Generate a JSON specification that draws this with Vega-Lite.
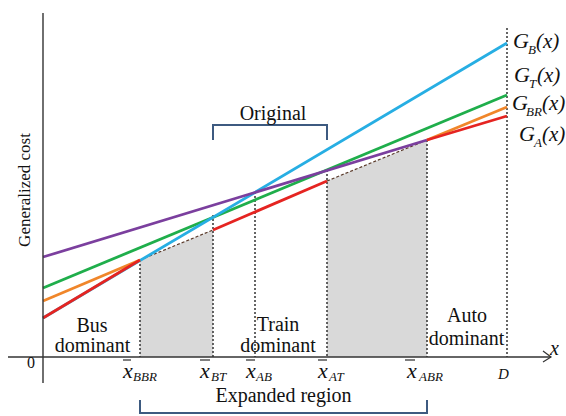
{
  "$schema": "https://vega.github.io/schema/vega-lite/v6.json",
  "width": 566,
  "height": 416,
  "autosize": {"type": "none"},
  "padding": 0,
  "background": "white",
  "config": {"view": {"stroke": null}},
  "datasets": {
    "regions": [
      {"region": "r1", "X": 97, "Y": 97}, {"region": "r1", "X": 170, "Y": 127},
      {"region": "r2", "X": 284, "Y": 176}, {"region": "r2", "X": 384, "Y": 217}
    ],
    "vrules": [
      {"X": 97, "Y": 97}, {"X": 170, "Y": 142}, {"X": 212, "Y": 165},
      {"X": 284, "Y": 187}, {"X": 384, "Y": 217}, {"X": 464, "Y": 329}
    ],
    "lines": [
      {"series": "GT", "seg": "T1", "X": 0, "Y": 69}, {"series": "GT", "seg": "T1", "X": 464, "Y": 262},
      {"series": "GB", "seg": "B1", "X": 0, "Y": 39}, {"series": "GB", "seg": "B1", "X": 464, "Y": 314},
      {"series": "GA0", "seg": "P1", "X": 0, "Y": 100}, {"series": "GA0", "seg": "P1", "X": 384, "Y": 217},
      {"series": "GBR", "seg": "O1", "X": 0, "Y": 56}, {"series": "GBR", "seg": "O1", "X": 97, "Y": 97},
      {"series": "GBR", "seg": "O2", "X": 384, "Y": 217}, {"series": "GBR", "seg": "O2", "X": 464, "Y": 250}
    ],
    "red": [
      {"seg": "R1", "X": 0, "Y": 39}, {"seg": "R1", "X": 97, "Y": 97},
      {"seg": "R2", "X": 170, "Y": 127}, {"seg": "R2", "X": 284, "Y": 176},
      {"seg": "R3", "X": 384, "Y": 217}, {"seg": "R3", "X": 464, "Y": 241}
    ],
    "axes": [
      {"X": -35, "Y": 0, "X2": 508, "Y2": 0},
      {"X": 0, "Y": -26, "X2": 0, "Y2": 344}
    ],
    "arrow": [
      {"o": 1, "X": 500, "Y": 6}, {"o": 2, "X": 508, "Y": 0}, {"o": 3, "X": 500, "Y": -5}
    ],
    "ticks": [
      {"X": 80, "X2": 88}, {"X": 157, "X2": 167}, {"X": 203, "X2": 212},
      {"X": 275, "X2": 284}, {"X": 362, "X2": 372}
    ],
    "brackets": [
      {"id": "orig", "o": 1, "X": 170, "Y": 217}, {"id": "orig", "o": 2, "X": 170, "Y": 232},
      {"id": "orig", "o": 3, "X": 284, "Y": 232}, {"id": "orig", "o": 4, "X": 284, "Y": 217},
      {"id": "exp", "o": 1, "X": 97, "Y": -43}, {"id": "exp", "o": 2, "X": 97, "Y": -56},
      {"id": "exp", "o": 3, "X": 384, "Y": -56}, {"id": "exp", "o": 4, "X": 384, "Y": -43}
    ],
    "words": [
      {"text": "Bus", "X": 49, "Y": 25}, {"text": "dominant", "X": 49.5, "Y": 5},
      {"text": "Train", "X": 235, "Y": 26}, {"text": "dominant", "X": 235, "Y": 5},
      {"text": "Auto", "X": 424, "Y": 35}, {"text": "dominant", "X": 423.5, "Y": 12},
      {"text": "Original", "X": 230, "Y": 237},
      {"text": "Expanded region", "X": 240.5, "Y": -45}
    ],
    "ytitle": [{"text": "Generalized cost", "X": -13, "Y": 167}],
    "zero": [{"text": "0", "X": -12, "Y": -11}],
    "xmain": [
      {"text": "x", "X": 80, "Y": -21}, {"text": "x", "X": 157, "Y": -21},
      {"text": "x", "X": 203, "Y": -21}, {"text": "x", "X": 275, "Y": -21},
      {"text": "x", "X": 364, "Y": -21}
    ],
    "xsub": [
      {"text": "BBR", "X": 90, "Y": -24}, {"text": "BT", "X": 168, "Y": -24},
      {"text": "AB", "X": 213, "Y": -24}, {"text": "AT", "X": 286, "Y": -24},
      {"text": "ABR", "X": 376, "Y": -24}
    ],
    "dlabel": [{"text": "D", "X": 455, "Y": -22}],
    "xaxislabel": [{"text": "x", "X": 507, "Y": 2}],
    "gmain": [
      {"text": "G", "X": 470, "Y": 309}, {"text": "G", "X": 471, "Y": 275},
      {"text": "G", "X": 469, "Y": 247}, {"text": "G", "X": 476, "Y": 216}
    ],
    "gparen": [
      {"text": "(x)", "X": 493, "Y": 309}, {"text": "(x)", "X": 494, "Y": 275},
      {"text": "(x)", "X": 499, "Y": 247}, {"text": "(x)", "X": 499, "Y": 216}
    ],
    "gsub": [
      {"text": "B", "X": 485, "Y": 303}, {"text": "T", "X": 486, "Y": 269},
      {"text": "BR", "X": 483, "Y": 241}, {"text": "A", "X": 491, "Y": 210}
    ]
  },
  "layer": [
    {
      "data": {"name": "regions"},
      "mark": {"type": "area", "color": "#d9d9d9", "opacity": 1},
      "encoding": {
        "x": {"field": "X", "type": "quantitative", "axis": null, "scale": {"domain": [-43, 523], "nice": false, "zero": false}},
        "y": {"field": "Y", "type": "quantitative", "axis": null, "scale": {"domain": [-59, 357], "nice": false, "zero": false}},
        "y2": {"datum": 0},
        "detail": {"field": "region"}
      }
    },
    {
      "data": {"name": "regions"},
      "mark": {"type": "line", "color": "#5b3b2b", "strokeWidth": 1.2, "strokeDash": [3, 2]},
      "encoding": {
        "x": {"field": "X", "type": "quantitative"},
        "y": {"field": "Y", "type": "quantitative"},
        "detail": {"field": "region"}
      }
    },
    {
      "data": {"name": "vrules"},
      "mark": {"type": "rule", "color": "#333333", "strokeWidth": 1.5, "strokeDash": [2, 2]},
      "encoding": {
        "x": {"field": "X", "type": "quantitative"},
        "y": {"field": "Y", "type": "quantitative"},
        "y2": {"datum": 0}
      }
    },
    {
      "data": {"name": "lines"},
      "mark": {"type": "line", "strokeWidth": 2.8},
      "encoding": {
        "x": {"field": "X", "type": "quantitative"},
        "y": {"field": "Y", "type": "quantitative"},
        "color": {"field": "series", "type": "nominal", "legend": null,
          "scale": {"domain": ["GT", "GB", "GA0", "GBR"], "range": ["#1fae4b", "#27aee3", "#7b3f9e", "#f0862a"]}},
        "detail": {"field": "seg"}
      }
    },
    {
      "data": {"name": "red"},
      "mark": {"type": "line", "strokeWidth": 2.8, "color": "#e52421"},
      "encoding": {
        "x": {"field": "X", "type": "quantitative"},
        "y": {"field": "Y", "type": "quantitative"},
        "detail": {"field": "seg"}
      }
    },
    {
      "data": {"name": "axes"},
      "mark": {"type": "rule", "color": "#333333", "strokeWidth": 1.4},
      "encoding": {
        "x": {"field": "X", "type": "quantitative"},
        "y": {"field": "Y", "type": "quantitative"},
        "x2": {"field": "X2"},
        "y2": {"field": "Y2"}
      }
    },
    {
      "data": {"name": "arrow"},
      "mark": {"type": "line", "color": "#333333", "strokeWidth": 1.2},
      "encoding": {
        "x": {"field": "X", "type": "quantitative"},
        "y": {"field": "Y", "type": "quantitative"},
        "order": {"field": "o"}
      }
    },
    {
      "data": {"name": "ticks"},
      "mark": {"type": "rule", "color": "#555555", "strokeWidth": 1.5},
      "encoding": {
        "x": {"field": "X", "type": "quantitative"},
        "x2": {"field": "X2"},
        "y": {"datum": -3}
      }
    },
    {
      "data": {"name": "brackets"},
      "mark": {"type": "line", "color": "#3d5a80", "strokeWidth": 2},
      "encoding": {
        "x": {"field": "X", "type": "quantitative"},
        "y": {"field": "Y", "type": "quantitative"},
        "detail": {"field": "id"},
        "order": {"field": "o"}
      }
    },
    {
      "data": {"name": "words"},
      "mark": {"type": "text", "font": "Liberation Serif", "fontSize": 20, "align": "center", "baseline": "alphabetic", "color": "#111111"},
      "encoding": {
        "x": {"field": "X", "type": "quantitative"},
        "y": {"field": "Y", "type": "quantitative"},
        "text": {"field": "text"}
      }
    },
    {
      "data": {"name": "ytitle"},
      "mark": {"type": "text", "font": "Liberation Serif", "fontSize": 17, "align": "center", "baseline": "alphabetic", "angle": 270, "color": "#111111"},
      "encoding": {
        "x": {"field": "X", "type": "quantitative"},
        "y": {"field": "Y", "type": "quantitative"},
        "text": {"field": "text"}
      }
    },
    {
      "data": {"name": "zero"},
      "mark": {"type": "text", "font": "Liberation Serif", "fontSize": 16, "align": "center", "baseline": "alphabetic", "color": "#111111"},
      "encoding": {
        "x": {"field": "X", "type": "quantitative"},
        "y": {"field": "Y", "type": "quantitative"},
        "text": {"field": "text"}
      }
    },
    {
      "data": {"name": "xmain"},
      "mark": {"type": "text", "font": "Liberation Serif", "fontSize": 22, "fontStyle": "italic", "align": "left", "baseline": "alphabetic", "color": "#111111"},
      "encoding": {
        "x": {"field": "X", "type": "quantitative"},
        "y": {"field": "Y", "type": "quantitative"},
        "text": {"field": "text"}
      }
    },
    {
      "data": {"name": "xsub"},
      "mark": {"type": "text", "font": "Liberation Serif", "fontSize": 13, "fontStyle": "italic", "align": "left", "baseline": "alphabetic", "color": "#111111"},
      "encoding": {
        "x": {"field": "X", "type": "quantitative"},
        "y": {"field": "Y", "type": "quantitative"},
        "text": {"field": "text"}
      }
    },
    {
      "data": {"name": "dlabel"},
      "mark": {"type": "text", "font": "Liberation Serif", "fontSize": 15, "fontStyle": "italic", "align": "left", "baseline": "alphabetic", "color": "#111111"},
      "encoding": {
        "x": {"field": "X", "type": "quantitative"},
        "y": {"field": "Y", "type": "quantitative"},
        "text": {"field": "text"}
      }
    },
    {
      "data": {"name": "xaxislabel"},
      "mark": {"type": "text", "font": "Liberation Serif", "fontSize": 20, "fontStyle": "italic", "align": "left", "baseline": "alphabetic", "color": "#111111"},
      "encoding": {
        "x": {"field": "X", "type": "quantitative"},
        "y": {"field": "Y", "type": "quantitative"},
        "text": {"field": "text"}
      }
    },
    {
      "data": {"name": "gmain"},
      "mark": {"type": "text", "font": "Liberation Serif", "fontSize": 22, "fontStyle": "italic", "align": "left", "baseline": "alphabetic", "color": "#111111"},
      "encoding": {
        "x": {"field": "X", "type": "quantitative"},
        "y": {"field": "Y", "type": "quantitative"},
        "text": {"field": "text"}
      }
    },
    {
      "data": {"name": "gparen"},
      "mark": {"type": "text", "font": "Liberation Serif", "fontSize": 21, "fontStyle": "italic", "align": "left", "baseline": "alphabetic", "color": "#111111"},
      "encoding": {
        "x": {"field": "X", "type": "quantitative"},
        "y": {"field": "Y", "type": "quantitative"},
        "text": {"field": "text"}
      }
    },
    {
      "data": {"name": "gsub"},
      "mark": {"type": "text", "font": "Liberation Serif", "fontSize": 13, "fontStyle": "italic", "align": "left", "baseline": "alphabetic", "color": "#111111"},
      "encoding": {
        "x": {"field": "X", "type": "quantitative"},
        "y": {"field": "Y", "type": "quantitative"},
        "text": {"field": "text"}
      }
    }
  ]
}
